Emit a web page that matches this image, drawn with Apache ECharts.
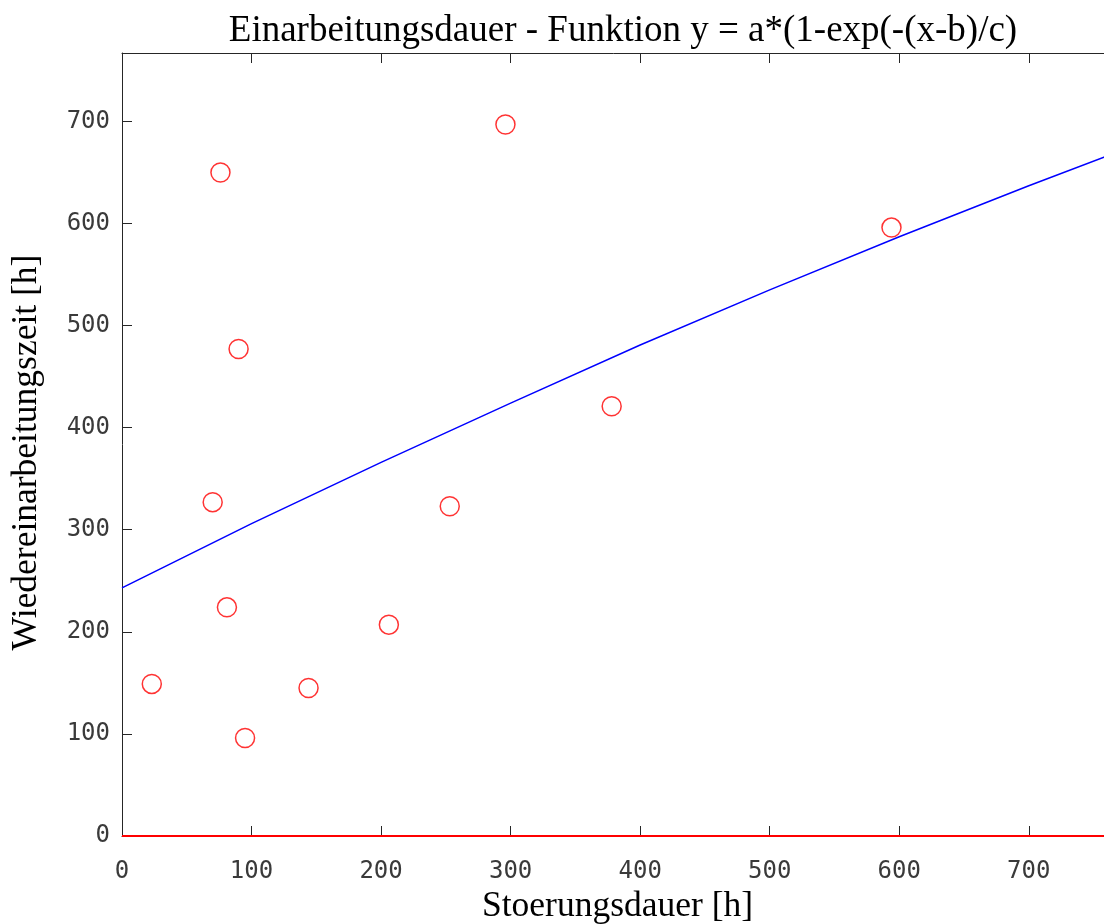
<!DOCTYPE html>
<html><head><meta charset="utf-8">
<script src="https://cdn.jsdelivr.net/npm/echarts@6/dist/echarts.min.js"></script>
<style>html,body{margin:0;padding:0;background:#fff}#c{width:1104px;height:924px}</style>
</head><body><div id="c"></div>
<script>
// measured points (Stoerungsdauer [h], Wiedereinarbeitungszeit [h])
const stoerungsdauer = [23, 70, 76, 81, 90, 95, 144, 206, 253, 296, 378, 594];
const wiedereinarbeitung = [149, 327, 650, 224, 477, 96, 145, 207, 323, 697, 421, 596];
// fitted curve
const fitX = [0, 100, 200, 300, 400, 500, 600, 700, 758, 765];
const fitY = [243, 306, 366, 424, 481, 535, 587, 637, 665, 668];
// zero line
const zeroX = [0, 765];
const zeroY = [0, 0];
const xRange = [0, 765];
const yRange = [0, 767];
const tickStep = 100;
const titleText = 'Einarbeitungsdauer - Funktion y = a*(1-exp(-(x-b)/c)';
const xName = 'Stoerungsdauer [h]';
const yName = 'Wiedereinarbeitungszeit [h]';

const pts = stoerungsdauer.map((x, i) => [x, wiedereinarbeitung[i]]);
const fit = fitX.map((x, i) => [x, fitY[i]]);
const zero = zeroX.map((x, i) => [x, zeroY[i]]);

const axisCol = '#262626';
const labelCol = '#3a3a3a';
const serif = '"Liberation Serif", "DejaVu Serif", serif';
const mono = '"DejaVu Sans Mono", monospace';

const chart = echarts.init(document.getElementById('c'));
chart.setOption({
  animation: false,
  backgroundColor: '#fff',
  title: {
    text: titleText, left: 618, top: 8, textAlign: 'center',
    textStyle: { fontFamily: serif, fontSize: 37, fontWeight: 'normal', color: '#000' }
  },
  grid: { left: 122, top: 53, width: 991, height: 783, containLabel: false, outerBoundsMode: 'none' },
  xAxis: [{
    type: 'value', position: 'bottom', min: xRange[0], max: xRange[1], interval: tickStep,
    axisLine: { show: true, lineStyle: { color: axisCol, width: 1 } },
    axisTick: { show: true, inside: true, length: 10, lineStyle: { color: axisCol } },
    axisLabel: { margin: 24, fontFamily: mono, fontSize: 24, color: labelCol, showMaxLabel: false },
    splitLine: { show: false },
    name: xName, nameLocation: 'middle', nameGap: 52,
    nameTextStyle: { fontFamily: serif, fontSize: 35.5, color: '#000' }
  }, {
    type: 'value', position: 'top', min: xRange[0], max: xRange[1], interval: tickStep,
    axisLine: { show: true, lineStyle: { color: axisCol, width: 1 } },
    axisTick: { show: true, inside: true, length: 10, lineStyle: { color: axisCol } },
    axisLabel: { show: false }, splitLine: { show: false }
  }],
  yAxis: [{
    type: 'value', position: 'left', min: yRange[0], max: yRange[1], interval: tickStep,
    axisLine: { show: true, lineStyle: { color: axisCol, width: 1 } },
    axisTick: { show: true, inside: true, length: 10, lineStyle: { color: axisCol } },
    axisLabel: { margin: 12, fontFamily: mono, fontSize: 24, color: labelCol, showMaxLabel: false },
    splitLine: { show: false },
    name: yName, nameLocation: 'middle', nameGap: 77,
    nameTextStyle: { fontFamily: serif, fontSize: 35.5, color: '#000', padding: [0, 16, 0, 0] }
  }],
  series: [{
    type: 'scatter', xAxisIndex: 0, yAxisIndex: 0, data: pts,
    symbol: 'circle', symbolSize: 19,
    itemStyle: { color: 'rgba(0,0,0,0)', borderColor: '#ff0000', borderWidth: 1.5 },
    z: 3
  }, {
    type: 'line', xAxisIndex: 0, yAxisIndex: 0, data: fit, showSymbol: false, symbol: 'none',
    smooth: false, clip: true,
    lineStyle: { color: '#0000ff', width: 1.5 }, z: 2
  }, {
    type: 'line', xAxisIndex: 0, yAxisIndex: 0, data: zero, showSymbol: false, symbol: 'none',
    clip: false,
    lineStyle: { color: '#ff0000', width: 2 }, z: 4
  }]
});
</script></body></html>
